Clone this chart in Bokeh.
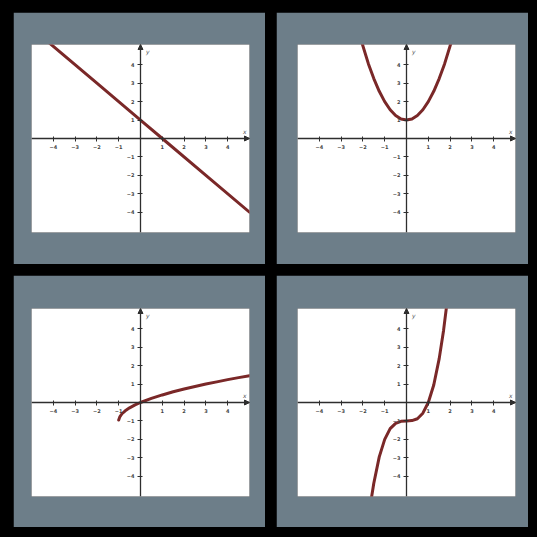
from bokeh.plotting import figure
from bokeh.layouts import row, column
from bokeh.models import FixedTicker, Label, Arrow, NormalHead, Range1d
from bokeh.embed import file_html
from bokeh.resources import INLINE

# ---- data ----
ticks = [-4, -3, -2, -1, 1, 2, 3, 4]

lin_x = [-4.2, -2.0, 0.0, 1.0, 3.0, 5.0]
lin_y = [5.2, 3.0, 1.0, 0.0, -2.0, -4.0]

par_x = [-2.1, -1.75, -1.5, -1.25, -1.0, -0.75, -0.5, -0.25, 0.0,
         0.25, 0.5, 0.75, 1.0, 1.25, 1.5, 1.75, 2.1]
par_y = [5.41, 4.06, 3.25, 2.56, 2.0, 1.56, 1.25, 1.06, 1.0,
         1.06, 1.25, 1.56, 2.0, 2.56, 3.25, 4.06, 5.41]

sq_x = [-1.0, -0.95, -0.85, -0.7, -0.5, -0.25, 0.0, 0.5, 1.0, 1.5,
        2.0, 2.5, 3.0, 3.5, 4.0, 4.5, 5.0]
sq_y = [-0.95, -0.78, -0.61, -0.45, -0.29, -0.13, 0.0, 0.22, 0.41, 0.58,
        0.73, 0.87, 1.0, 1.12, 1.24, 1.35, 1.45]

cub_x = [-1.65, -1.5, -1.25, -1.0, -0.75, -0.5, -0.25, 0.0, 0.25, 0.5,
         0.75, 1.0, 1.25, 1.5, 1.7, 1.85]
cub_y = [-5.49, -4.38, -2.95, -2.0, -1.42, -1.13, -1.02, -1.0, -0.98, -0.88,
         -0.58, 0.0, 0.95, 2.38, 3.91, 5.33]

X_RANGE = (-5.0, 5.0)
Y_RANGE = (-5.1, 5.1)

PANEL = "#6d7e89"
CURVE = "#7a2828"
AXIS = "#2e2e2e"
BG = "black"


def make_panel(xs, ys, borders):
    left, right, top, bottom = borders
    p = figure(frame_width=218, frame_height=188,
               x_range=Range1d(*X_RANGE), y_range=Range1d(*Y_RANGE),
               output_backend="svg", toolbar_location=None,
               min_border_left=left, min_border_right=right,
               min_border_top=top, min_border_bottom=bottom,
               background_fill_color="white", border_fill_color=PANEL,
               outline_line_color=None)
    p.grid.visible = False
    for ax in (p.xaxis[0], p.yaxis[0]):
        ax.fixed_location = 0
        ax.ticker = FixedTicker(ticks=ticks)
        ax.axis_line_color = AXIS
        ax.axis_line_width = 1.3
        ax.major_tick_line_color = AXIS
        ax.major_tick_in = 2
        ax.major_tick_out = 3
        ax.minor_tick_line_color = None
        ax.major_label_text_font_size = "5px"
        ax.major_label_text_color = "#444444"
        ax.major_label_text_font = "DejaVu Sans"
        ax.major_label_text_font_style = "bold"
        ax.major_label_standoff = 3
    p.add_layout(Arrow(end=NormalHead(size=5, fill_color=AXIS, line_color=AXIS),
                       x_start=0, y_start=Y_RANGE[1] - 0.4,
                       x_end=0, y_end=Y_RANGE[1], line_color=AXIS, line_width=1))
    p.add_layout(Arrow(end=NormalHead(size=5, fill_color=AXIS, line_color=AXIS),
                       x_start=X_RANGE[1] - 0.4, y_start=0,
                       x_end=X_RANGE[1], y_end=0, line_color=AXIS, line_width=1))
    p.add_layout(Label(x=0.25, y=Y_RANGE[1] - 0.55, text="y",
                       text_font_size="6px", text_color="#555555",
                       text_font="DejaVu Sans", text_font_style="italic"))
    p.add_layout(Label(x=X_RANGE[1] - 0.3, y=0.2, text="x",
                       text_font_size="6px", text_color="#555555",
                       text_font="DejaVu Sans", text_font_style="italic"))
    p.line(xs, ys, line_color=CURVE, line_width=3, line_cap="round",
           line_join="round")
    return p


p1 = make_panel(lin_x, lin_y, (18, 16, 31, 33))
p2 = make_panel(par_x, par_y, (21, 13, 32, 32))
p3 = make_panel(sq_x, sq_y, (18, 16, 33, 31))
p4 = make_panel(cub_x, cub_y, (21, 13, 33, 31))

black = {"background-color": BG}
layout = column(
    row(p1, p2, spacing=11, styles=black),
    row(p3, p4, spacing=11, styles=black),
    spacing=11,
    styles={"background-color": BG, "padding": "12px 9px 10px 13px"},
)

open("out.html", "w").write(file_html(layout, INLINE))
